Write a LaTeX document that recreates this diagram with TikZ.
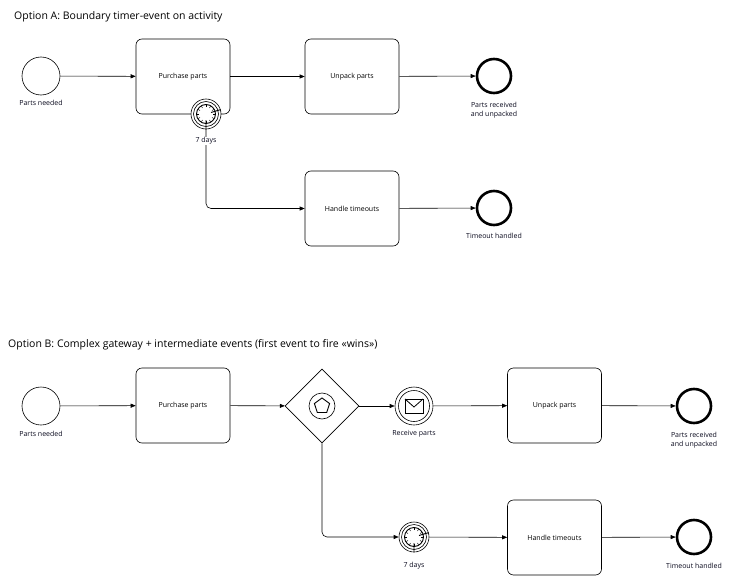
\documentclass[tikz,border=0pt]{standalone}
\usepackage{fontspec}
\setmainfont{Open Sans}
\usetikzlibrary{shapes.geometric,arrows.meta,calc}
\definecolor{lbl}{RGB}{10,10,30}
\begin{document}
\begin{tikzpicture}[x=1pt,y=-1pt,
  task/.style={draw,rounded corners=6pt,minimum width=94pt,minimum height=75pt,font=\fontsize{7}{8.5}\selectfont,line width=0.6pt},
  start/.style={draw,circle,minimum size=38pt,line width=0.6pt},
  endev/.style={draw,circle,minimum size=34pt,line width=2.6pt},
  lab/.style={font=\fontsize{7}{8.5}\selectfont,text=lbl,align=center,inner sep=0pt},
  flow/.style={-{Triangle[length=5pt,width=4pt]},line width=0.6pt,rounded corners=5pt},
  title/.style={font=\fontsize{10.5}{12}\selectfont,anchor=west,inner sep=0pt}]
\useasboundingbox (0,0) rectangle (739,578);
\newcommand{\timer}[2]{%
  \node[draw,circle,minimum size=30pt,line width=0.6pt,fill=white] (#1) at #2 {};
  \draw[line width=0.6pt] (#1) circle (12.5pt);
  \draw[line width=0.9pt] (#1) circle (9.5pt);
  \foreach \a in {0,30,...,330} \draw[line width=0.5pt] ($(#1)+(\a:7pt)$) -- ($(#1)+(\a:9pt)$);
  \draw[line width=0.9pt] ($(#1)+(0,-6pt)$) -- (#1) -- ($(#1)+(5pt,1.5pt)$);}
% Option A
\node[title] (ta) at (14,17) {Option A: Boundary timer-event on activity};
\node[start] (s1) at (41,76) {};
\node[lab] (s1l) at (41,103) {Parts needed};
\node[task] (p1) at (183,76.5) {Purchase parts};
\node[task] (u1) at (352,76.5) {Unpack parts};
\node[endev] (e1) at (494,76) {};
\node[lab] (e1l) at (494,110) {Parts received\\and unpacked};
\node[task] (h1) at (352,208.5) {Handle timeouts};
\node[endev] (e2) at (494,208) {};
\node[lab] (e2l) at (494,236) {Timeout handled};
\draw[flow] (s1) -- (p1);
\draw[flow] (p1) -- (u1);
\draw[flow] (u1) -- (e1);
\draw[flow] (h1) -- (e2);
\draw[flow] (206,125) |- (h1.west);
\timer{t1}{(206,114)}
\node[lab,fill=white,inner sep=0.5pt] (t1l) at (206,141) {7 days};
% Option B
\node[title] (tb) at (8,345) {Option B: Complex gateway + intermediate events (first event to fire «wins»)};
\node[start] (s2) at (41,406) {};
\node[lab] (s2l) at (41,434) {Parts needed};
\node[task] (p2) at (183,405.5) {Purchase parts};
\node[draw,diamond,minimum width=74pt,minimum height=74pt,inner sep=0pt,line width=0.6pt] (g) at (322,406) {};
\draw[line width=0.6pt] (g) circle (13pt);
\draw[line width=0.9pt] (g.center) +(90:8pt) -- +(162:8pt) -- +(234:8pt) -- +(306:8pt) -- +(18:8pt) -- cycle;
\node[draw,circle,minimum size=38pt,line width=0.6pt] (r) at (414,406) {};
\draw[line width=0.6pt] (r) circle (15.5pt);
\draw[line width=0.8pt] (405,399) rectangle (423,413);
\draw[line width=0.8pt] (405,399) -- (414,407) -- (423,399);
\node[lab] (rl) at (414,434) {Receive parts};
\node[task] (u2) at (554.5,405.5) {Unpack parts};
\node[endev] (e3) at (694,406) {};
\node[lab] (e3l) at (694,440) {Parts received\\and unpacked};
\timer{t2}{(414,537)}
\node[lab] (t2l) at (414,566) {7 days};
\node[task] (h2) at (554.5,537.5) {Handle timeouts};
\node[endev] (e4) at (694,537) {};
\node[lab] (e4l) at (694,566) {Timeout handled};
\draw[flow] (s2) -- (p2);
\draw[flow] (p2) -- (g);
\draw[flow] (g) -- (r);
\draw[flow] (r) -- (u2);
\draw[flow] (u2) -- (e3);
\draw[flow] (g.south) |- (t2);
\draw[flow] (t2) -- (h2);
\draw[flow] (h2) -- (e4);
\end{tikzpicture}
\end{document}
